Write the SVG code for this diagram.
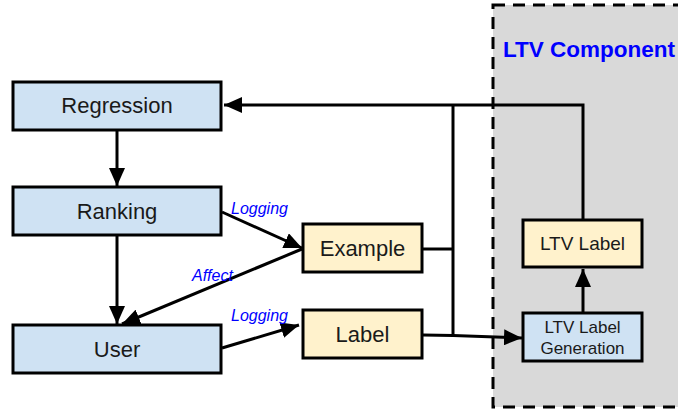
<svg xmlns="http://www.w3.org/2000/svg" width="678" height="412" viewBox="0 0 678 412">
<style>
.box{stroke:#000;stroke-width:3}
.blue{fill:#cfe2f3}
.yel{fill:#fff2cc}
.t{font-family:"Liberation Sans",Arial,sans-serif;fill:#1a1a1a;text-anchor:middle}
.lab{font-family:"Liberation Sans",Arial,sans-serif;font-style:italic;fill:#0000ff;font-size:16px}
.c{fill:none;stroke:#000;stroke-width:3}
</style>
<defs>
<marker id="ah" markerUnits="userSpaceOnUse" markerWidth="20" markerHeight="16" refX="18" refY="8" orient="auto">
<path d="M0,0 L18,8 L0,16 Z" fill="#000"/>
</marker>
</defs>
<rect width="678" height="412" fill="#fff"/>
<g id="ltv-component">
<rect x="493" y="5" width="200" height="402" fill="#d9d9d9" stroke="#000" stroke-width="3" stroke-dasharray="12,8"/>
<text x="503" y="57" font-family="Liberation Sans,Arial,sans-serif" font-weight="bold" font-size="22.5" fill="#0000ff">LTV Component</text>
</g>
<g id="connectors">
<path class="c" d="M583,220 V105 H224" marker-end="url(#ah)"/>
<path class="c" d="M453,105 V335"/>
<path class="c" d="M423,249 H453"/>
<path class="c" d="M423,335 L453,335.5 L522,338" marker-end="url(#ah)"/>
<path class="c" d="M583,313 V269" marker-end="url(#ah)"/>
<path class="c" d="M117,130 V186" marker-end="url(#ah)"/>
<path class="c" d="M117,235 V324" marker-end="url(#ah)"/>
<path class="c" d="M222,212 L302,248" marker-end="url(#ah)"/>
<path class="c" d="M302,249 L122,324" marker-end="url(#ah)"/>
<path class="c" d="M222,348 L299,325" marker-end="url(#ah)"/>
<text class="lab" x="231" y="214">Logging</text>
<text class="lab" x="192" y="281">Affect</text>
<text class="lab" x="231" y="321">Logging</text>
</g>
<g id="regression">
<rect class="box blue" x="13" y="82" width="208" height="48"/>
<text class="t" x="117" y="113" font-size="22">Regression</text>
</g>
<g id="ranking">
<rect class="box blue" x="13" y="187" width="208" height="48"/>
<text class="t" x="117" y="219" font-size="22">Ranking</text>
</g>
<g id="user">
<rect class="box blue" x="13" y="325" width="208" height="48"/>
<text class="t" x="117" y="357" font-size="22">User</text>
</g>
<g id="example">
<rect class="box yel" x="303" y="224" width="119" height="48"/>
<text class="t" x="362.5" y="256" font-size="22">Example</text>
</g>
<g id="label">
<rect class="box yel" x="303" y="310" width="119" height="48"/>
<text class="t" x="362.5" y="342" font-size="22">Label</text>
</g>
<g id="ltv-label">
<rect class="box yel" x="523" y="220" width="119" height="47"/>
<text class="t" x="582.5" y="250" font-size="19">LTV Label</text>
</g>
<g id="ltv-label-generation">
<rect class="box blue" x="523" y="313" width="119" height="48"/>
<text class="t" x="582.5" y="333" font-size="17">LTV Label</text>
<text class="t" x="582.5" y="354" font-size="17">Generation</text>
</g>
</svg>
